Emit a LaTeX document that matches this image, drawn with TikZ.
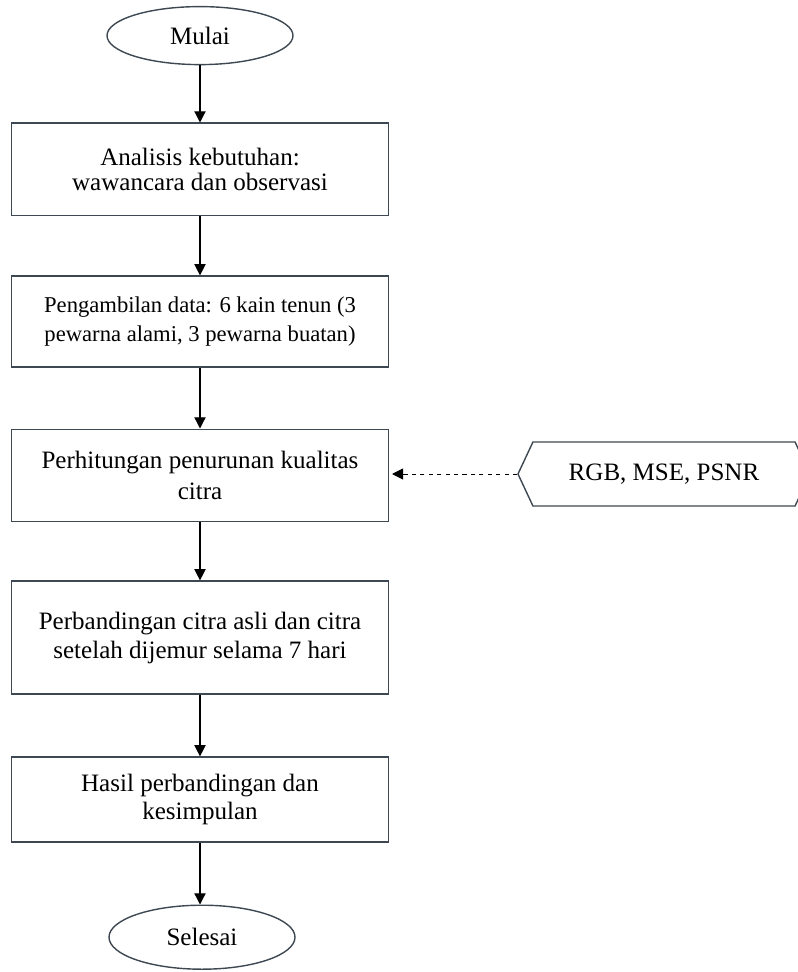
\documentclass[tikz,border=0pt]{standalone}
\usepackage{fontspec}
\setmainfont{Liberation Serif}
\usetikzlibrary{calc}
\usetikzlibrary{positioning}
\usetikzlibrary{shapes.geometric}
\usetikzlibrary{shapes.symbols}
\usetikzlibrary{arrows.meta}
\definecolor{edgegray}{RGB}{62,72,82}
\tikzstyle{termnode} = [draw=edgegray, ellipse, line width=1pt, minimum width=4.65cm, minimum height=1.45cm, inner sep=0pt, font=\fontsize{17.8}{20.5}\selectfont]
\tikzstyle{stepnode} = [draw=edgegray, rectangle, line width=1pt, minimum width=9.425cm, align=center, font=\fontsize{17.8}{20.5}\selectfont]
\tikzstyle{datanode} = [draw=edgegray, signal, signal to=west and east, signal pointer angle=130, line width=1pt, minimum width=7.3cm, minimum height=1.6cm, inner sep=0pt, font=\fontsize{17.8}{20.5}\selectfont]
\tikzstyle{flowarrow} = [-{Triangle[length=0.28cm,width=0.28cm]}, line width=0.9pt]

\begin{document}
\begin{tikzpicture}
    \path[use as bounding box, clip] (0,0) rectangle (19.95,-24.3);

    \node[termnode] (flow_mulai) at (5,-0.89) {Mulai};
    \node[stepnode, minimum height=2.3cm, font=\fontsize{17.8}{17.8}\selectfont] (flow_analisis) at ($(flow_mulai)+(0,-3.34)$) {Analisis kebutuhan:\\wawancara dan observasi};
    \node[stepnode, minimum height=2.275cm, font=\fontsize{16.1}{20}\selectfont] (flow_data) at ($(flow_analisis)+(0,-3.81)$) {Pengambilan data: 6 kain tenun (3\\pewarna alami, 3 pewarna buatan)};
    \node[stepnode, minimum height=2.3cm, font=\fontsize{17.8}{22}\selectfont] (flow_hitung) at ($(flow_data)+(0,-3.84)$) {Perhitungan penurunan kualitas\\citra};
    \node[stepnode, minimum height=2.825cm] (flow_banding) at ($(flow_hitung)+(0,-4.06)$) {Perbandingan citra asli dan citra\\setelah dijemur selama 7 hari};
    \node[stepnode, minimum height=2.125cm, font=\fontsize{17.8}{20}\selectfont] (flow_hasil) at ($(flow_banding)+(0,-4.05)$) {Hasil perbandingan dan\\kesimpulan};
    \node[termnode, minimum height=1.6cm] (flow_selesai) at ($(flow_hasil)+(0.05,-3.44)$) {Selesai};

    \node[datanode] (flow_metrik) at ($(flow_hitung)+(11.6,0.03)$) {RGB, MSE, PSNR};

    \draw[flowarrow] (flow_mulai) -- (flow_analisis);
    \draw[flowarrow] (flow_analisis) -- (flow_data);
    \draw[flowarrow] (flow_data) -- (flow_hitung);
    \draw[flowarrow] (flow_hitung) -- (flow_banding);
    \draw[flowarrow] (flow_banding) -- (flow_hasil);
    \draw[flowarrow] (flow_hasil.south) -- (flow_hasil.south |- flow_selesai.north);
    \draw[flowarrow, dashed, line width=0.7pt, shorten >=2pt] (flow_metrik.west) -- (flow_metrik.west -| flow_hitung.east);
\end{tikzpicture}
\end{document}
